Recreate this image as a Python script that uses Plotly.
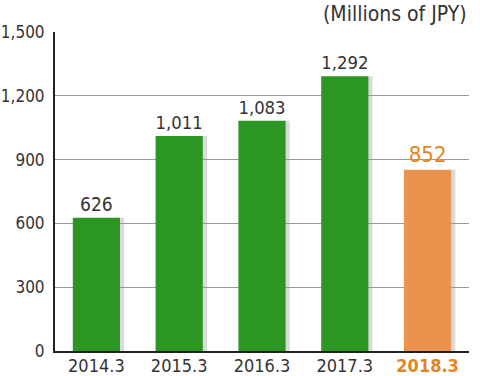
import plotly.graph_objects as go

categories = ["2014.3", "2015.3", "2016.3", "2017.3", "2018.3"]
values = [626, 1011, 1083, 1292, 852]
bar_colors = ["#2c9622", "#2c9622", "#2c9622", "#2c9622", "#eb934e"]
text_colors = ["#333333", "#333333", "#333333", "#333333", "#e5841f"]
text_sizes = [19, 19, 19, 19, 22]
y_ticks = [0, 300, 600, 900, 1200, 1500]
y_tick_labels = ["0", "300", "600", "900", "1,200", "1,500"]
unit_label = "(Millions of JPY)"

FONT = "DejaVu Sans Condensed, Liberation Sans Narrow, sans-serif"
BAR_W = 0.57

fig = go.Figure()
# soft shadow behind each bar
fig.add_trace(go.Bar(
    x=categories, y=values,
    marker=dict(color="rgba(150,150,150,0.35)", line=dict(width=0)),
    width=0.07, offset=BAR_W / 2 - 0.02,
    hoverinfo="skip",
))
fig.add_trace(go.Bar(
    x=categories,
    y=values,
    marker=dict(color=bar_colors, line=dict(width=0)),
    text=[f"{v:,}" for v in values],
    textposition="outside",
    textfont=dict(family=FONT, size=text_sizes, color=text_colors),
    cliponaxis=False,
    width=BAR_W, offset=-BAR_W / 2,
))

tick_text = [f'<span style="color:{c}"><b>{t}</b></span>' if i == 4 else t
             for i, (t, c) in enumerate(zip(categories, text_colors))]

fig.update_layout(
    width=480, height=376,
    margin=dict(l=55, r=11, t=32, b=25),
    paper_bgcolor="white", plot_bgcolor="white",
    showlegend=False, barmode="overlay",
    font=dict(family=FONT, size=18, color="#333333"),
    xaxis=dict(
        type="category", automargin=False,
        tickvals=categories, ticktext=tick_text,
        showline=True, linecolor="#222222", linewidth=2,
        ticks="", showgrid=False, ticklabelstandoff=-3,
        tickfont=dict(family=FONT, size=18, color="#333333"),
    ),
    yaxis=dict(
        range=[0, 1500], automargin=False,
        tickvals=y_ticks, ticktext=y_tick_labels,
        showline=True, linecolor="#222222", linewidth=2,
        showgrid=True, gridcolor="#999999", gridwidth=1,
        ticks="", ticklabelstandoff=5,
        zeroline=False,
        tickfont=dict(family=FONT, size=17, color="#333333"),
    ),
    annotations=[dict(
        text=unit_label, xref="paper", yref="paper",
        x=1.0, y=1.0, xanchor="right", yanchor="bottom", yshift=4,
        showarrow=False, font=dict(family=FONT, size=21, color="#333333"),
    )],
)

fig.write_html("out.html", config={"displayModeBar": False},
               post_script="document.body.style.margin='0px';document.body.style.overflow='hidden';")
